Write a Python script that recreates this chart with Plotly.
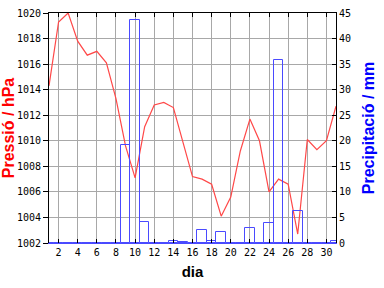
import plotly.graph_objects as go

days = list(range(1, 32))
pressure = [1014.3, 1019.3, 1020.0, 1017.8, 1016.7, 1017.0, 1016.1, 1013.3, 1009.6, 1007.1,
            1011.1, 1012.8, 1013.0, 1012.6, 1009.9, 1007.2, 1007.0, 1006.6, 1004.1, 1005.6,
            1009.2, 1011.7, 1010.0, 1006.0, 1007.0, 1006.6, 1002.7, 1010.1, 1009.3, 1010.0,
            1012.7]
precip = [0, 0, 0, 0, 0, 0, 0, 0, 19.2, 43.6,
          4.2, 0, 0, 0.4, 0.2, 0, 2.6, 0.3, 2.2, 0,
          0, 2.9, 0, 4.0, 35.8, 0, 6.3, 0, 0, 0,
          0.4]
xticks = list(range(2, 31, 2))
ticks_p = list(range(1002, 1021, 2))
ticks_r = list(range(0, 46, 5))

RED = "#ff4848"
BLUE = "#4a4aff"
tickfont = dict(family="DejaVu Sans Mono", size=10, color="black")

fig = go.Figure()
fig.add_trace(go.Bar(x=days, y=precip, yaxis="y2", width=1,
                     marker=dict(color="rgba(0,0,0,0)", line=dict(color=BLUE, width=1)),
                     showlegend=False))
fig.add_trace(go.Scatter(x=days, y=pressure, mode="lines",
                         line=dict(color=RED, width=1.2), showlegend=False))
# top frame axis
fig.add_trace(go.Scatter(x=[days[0]], y=[None], xaxis="x2", showlegend=False))

fig.update_layout(
    width=384, height=288,
    margin=dict(l=49, r=48, t=13, b=45, autoexpand=False),
    paper_bgcolor="white", plot_bgcolor="white",
    xaxis=dict(range=[1, 31], tickvals=xticks, ticks="inside", ticklen=4, tickcolor="black",
               showline=True, linecolor=BLUE, linewidth=1, mirror=False, automargin=False,
               showgrid=True, gridcolor="#a8a8a8", gridwidth=1, zeroline=False,
               tickfont=tickfont,
               title=dict(text="dia", font=dict(family="Liberation Sans", size=15, color="black", weight="bold"),
                          standoff=9)),
    xaxis2=dict(range=[1, 31], overlaying="x", side="top", tickvals=xticks, ticks="inside",
                ticklen=4, tickcolor="black", showticklabels=False, showline=True, automargin=False,
                linecolor="black", linewidth=1, showgrid=False, zeroline=False),
    yaxis=dict(range=[1002, 1020], tickvals=ticks_p, ticks="outside", ticklen=5, tickcolor="black",
               showline=True, linecolor="black", linewidth=1, showgrid=True, automargin=False,
               gridcolor="#a8a8a8", gridwidth=1, zeroline=False, tickfont=tickfont,
               title=dict(text="Pressió / hPa", font=dict(family="Liberation Sans", size=16, color="red", weight="bold"),
                          standoff=3)),
    yaxis2=dict(range=[0, 45], tickvals=ticks_r, overlaying="y", side="right", ticks="inside",
                ticklen=4, tickcolor="black", showline=True, linecolor="black", linewidth=1,
                showgrid=False, zeroline=False, tickfont=tickfont, automargin=False,
                title=dict(text="Precipitació / mm", font=dict(family="Liberation Sans", size=16, color="blue", weight="bold"),
                           standoff=12)),
    bargap=0,
)

fig.write_html("out.html")
